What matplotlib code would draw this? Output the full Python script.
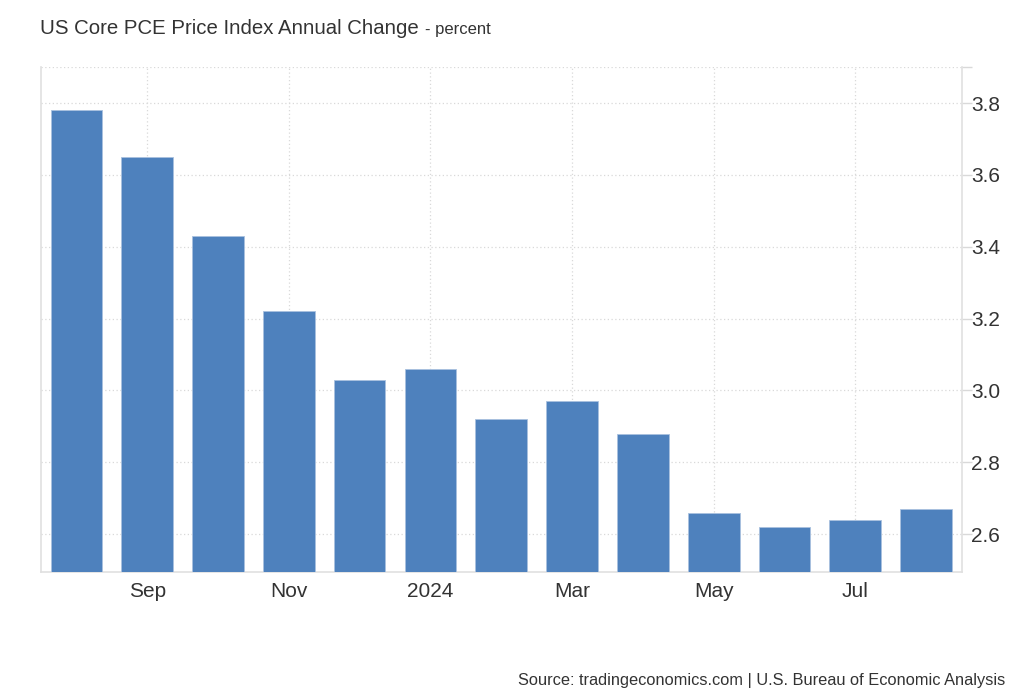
import numpy as np
import matplotlib.pyplot as plt

plt.rcParams['font.family'] = ['Liberation Sans', 'DejaVu Sans']

# monthly values, Aug 2023 - Aug 2024
months = ['Aug', 'Sep', 'Oct', 'Nov', 'Dec', '2024', 'Feb', 'Mar', 'Apr', 'May', 'Jun', 'Jul', 'Aug']
values = [3.78, 3.65, 3.43, 3.22, 3.03, 3.06, 2.92, 2.97, 2.88, 2.66, 2.62, 2.64, 2.67]
label_idx = [1, 3, 5, 7, 9, 11]

bar_color = '#4e81bd'
grid_color = '#d9d9d9'
text_color = '#333333'

fig = plt.figure(figsize=(10.24, 7.0), dpi=100)
ax = fig.add_axes([0.040, 0.183, 0.899, 0.721])

x = np.arange(len(values))
ax.bar(x, values, width=0.73, color=bar_color, edgecolor='#a9c1df', linewidth=0.6, zorder=3)

ax.set_xlim(-0.5, len(values) - 0.5)
ax.set_ylim(2.495, 3.9)

ax.set_xticks(label_idx)
ax.set_xticklabels([months[i] for i in label_idx], fontsize=15, color=text_color)
ax.tick_params(axis='x', length=0, pad=7)

yt = [2.6, 2.8, 3.0, 3.2, 3.4, 3.6, 3.8, 3.9]
ax.set_yticks(yt)
ax.set_yticklabels(['2.6', '2.8', '3.0', '3.2', '3.4', '3.6', '3.8', ''], fontsize=15, color=text_color)
ax.yaxis.tick_right()
ax.tick_params(axis='y', length=7, color=grid_color, width=1, pad=0)

ax.grid(True, linestyle=(0, (1, 2)), color=grid_color, linewidth=0.9, zorder=0)

ax.spines['top'].set_visible(False)
for side in ['left', 'right', 'bottom']:
    ax.spines[side].set_color('#e0e0e0')
    ax.spines[side].set_linewidth(1.2)

fig.text(0.039, 0.952, 'US Core PCE Price Index Annual Change', fontsize=14.7, color=text_color)
fig.text(0.415, 0.952, '- percent', fontsize=12, color=text_color)
fig.text(0.982, 0.022, 'Source: tradingeconomics.com | U.S. Bureau of Economic Analysis',
         fontsize=11.8, color=text_color, ha='right')

fig.savefig('out.png', dpi=100)
